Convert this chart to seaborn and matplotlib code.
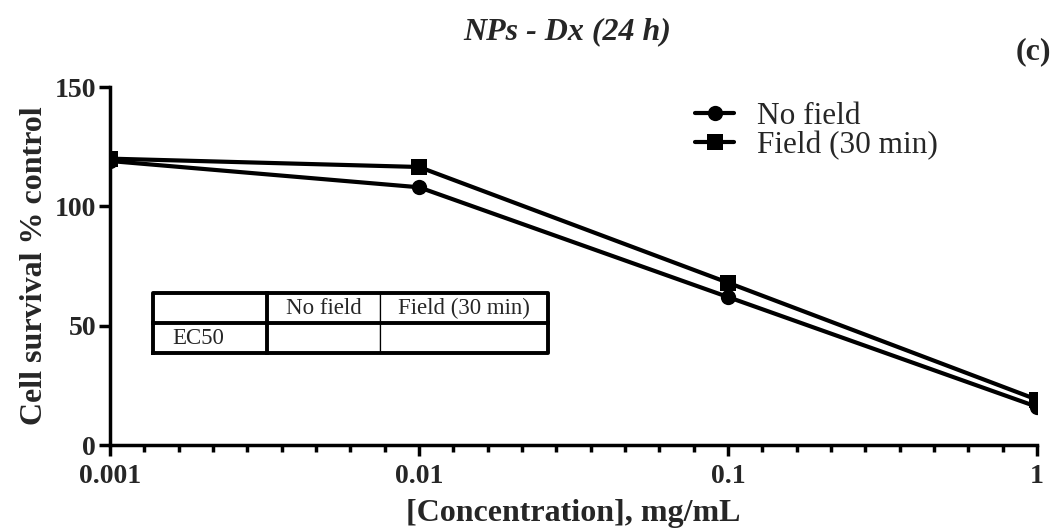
import numpy as np
import pandas as pd
import matplotlib
matplotlib.use("Agg")
import matplotlib.pyplot as plt
import seaborn as sns
from matplotlib.ticker import FixedLocator, NullFormatter
from matplotlib.lines import Line2D

concentrations = [0.001, 0.01, 0.1, 1]
no_field = [119.0, 108.0, 62.0, 16.0]
field_30 = [120.0, 116.5, 68.0, 19.0]
series_names = ["No field", "Field (30 min)"]
x_tick_labels = ["0.001", "0.01", "0.1", "1"]
y_ticks = [0, 50, 100, 150]

df = pd.DataFrame({
    "conc": concentrations * 2,
    "value": no_field + field_30,
    "series": [series_names[0]] * 4 + [series_names[1]] * 4,
})

sns.set_theme(style="ticks")
plt.rcParams["font.family"] = ["Liberation Serif", "DejaVu Serif"]

fig = plt.figure(figsize=(10.59, 5.32), dpi=100)
ax = fig.add_axes([0.1039, 0.1635, 0.8754, 0.6729])

LW = 3.0
sns.lineplot(data=df, x="conc", y="value", hue="series", style="series",
             markers=["o", "s"], dashes=False, palette=["black", "black"],
             markersize=11, linewidth=LW, markeredgewidth=0, ax=ax, legend=False)

ax.set_xscale("log")
ax.set_xlim(0.001, 1)
ax.set_ylim(0, 150)
ax.set_xticks(concentrations)
ax.set_xticklabels(x_tick_labels)
minor = [10 ** (k + i / 9) for k in range(-3, 0) for i in range(1, 9)]
ax.xaxis.set_minor_locator(FixedLocator(minor))
ax.xaxis.set_minor_formatter(NullFormatter())
ax.set_yticks(y_ticks)
ax.set_yticklabels([str(v) for v in y_ticks])

for s in ["top", "right"]:
    ax.spines[s].set_visible(False)
for s in ["left", "bottom"]:
    ax.spines[s].set_linewidth(2.5)
    ax.spines[s].set_color("black")
ax.tick_params(axis="both", which="major", length=8, width=2.5, color="black",
               labelsize=20, pad=2)
ax.tick_params(axis="x", which="minor", length=5, width=2.5, color="black")
ax.tick_params(axis="x", which="major", pad=6)
for lbl in ax.get_xticklabels() + ax.get_yticklabels():
    lbl.set_fontweight("bold")

ax.set_xlabel("[Concentration], mg/mL", fontsize=23, fontweight="bold", labelpad=7)
ax.set_ylabel("Cell survival % control", fontsize=23, fontweight="bold", labelpad=4)

fig.text(0.536, 0.94, "NPs - Dx (24 h)", fontsize=23, fontweight="bold",
         fontstyle="italic", ha="center", va="center")
fig.text(0.993, 0.902, "(c)", fontsize=23, fontweight="bold", ha="right", va="center")

handles = [Line2D([], [], color="black", marker="o", markersize=11, linewidth=LW,
                  markeredgewidth=0),
           Line2D([], [], color="black", marker="s", markersize=11, linewidth=LW,
                  markeredgewidth=0)]
leg = ax.legend(handles, series_names, loc="upper left", bbox_to_anchor=(0.631, 0.958),
                frameon=False, fontsize=22.5, handlelength=1.25, handletextpad=0.75,
                labelspacing=0.0, borderaxespad=0, borderpad=0)

# EC50 table
x0, y0, w, h = 0.0464, 0.257, 0.4261, 0.1676
colw = [114, 113, 168]
tbl = ax.table(cellText=[["", "No field", "Field (30 min)"], ["EC50", "", ""]],
               colWidths=[c / sum(colw) for c in colw],
               cellLoc="center", bbox=[x0, y0, w, h])
tbl.auto_set_font_size(False)
for (r, c), cell in tbl.get_celld().items():
    cell.set_linewidth(0.9)
    cell.set_edgecolor("black")
    cell.get_text().set_fontsize(16.5)
    cell.get_text().set_fontfamily(["Liberation Serif"])
    if c == 0:
        cell.PAD = 0.17
        cell.set_text_props(ha="left")
x1 = x0 + w * colw[0] / sum(colw)
thick = dict(color="black", linewidth=2.8, transform=ax.transAxes, clip_on=False,
             solid_capstyle="projecting")
ax.plot([x0, x0 + w, x0 + w, x0, x0], [y0, y0, y0 + h, y0 + h, y0], **thick)
ax.plot([x1, x1], [y0, y0 + h], **thick)
ax.plot([x0, x0 + w], [y0 + h / 2, y0 + h / 2], **thick)

fig.savefig("out.png", dpi=100)
